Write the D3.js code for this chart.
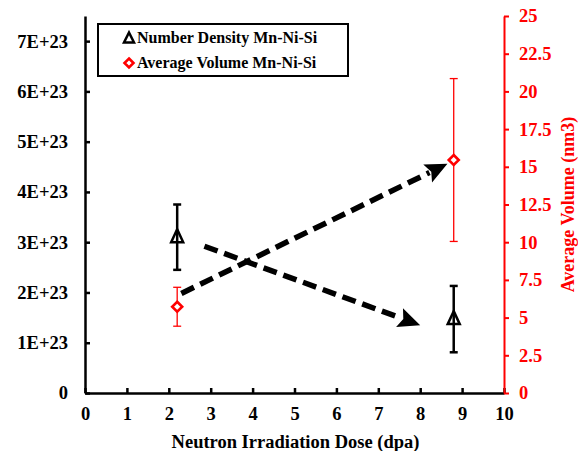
<!DOCTYPE html>
<html>
<head>
<meta charset="utf-8">
<script src="https://d3js.org/d3.v7.min.js"></script>
<style>
  body { margin: 0; background: #fff; }
  svg text { font-family: "Liberation Serif", "Times New Roman", serif; font-weight: bold; }
</style>
</head>
<body>
<svg id="chart" width="578" height="451"></svg>
<script>
// data
var dose = [2.2, 8.8];
var numberDensity = [3.1e23, 1.47e23];
var numberDensityErr = [0.65e23, 0.66e23];
var avgVolume = [5.72, 15.45];
var avgVolumeErr = [1.29, 5.4];
var xTicks = [0, 1, 2, 3, 4, 5, 6, 7, 8, 9, 10];
var leftTicks = [0, 1e23, 2e23, 3e23, 4e23, 5e23, 6e23, 7e23];
var leftTickLabels = ["0", "1E+23", "2E+23", "3E+23", "4E+23", "5E+23", "6E+23", "7E+23"];
var rightTicks = [0, 2.5, 5, 7.5, 10, 12.5, 15, 17.5, 20, 22.5, 25];
// trend arrows (start, tip) in data units
var arrowVolume = [[2.3, 6.6], [8.65, 15.2]];       // right axis units
var arrowDensity = [[2.85, 2.92e23], [8.0, 1.35e23]]; // left axis units

var svg = d3.select("#chart");
var pLeft = 85, pRight = 504, pTop = 16, pBottom = 393;

var x = d3.scaleLinear().domain([0, 10]).range([pLeft, pRight]);
var yL = d3.scaleLinear().domain([0, 7.5e23]).range([pBottom, pTop]);
var yR = d3.scaleLinear().domain([0, 25]).range([pBottom, pTop]);

// x axis
var xAxis = svg.append("g")
  .attr("transform", "translate(0," + pBottom + ")")
  .call(d3.axisBottom(x).tickValues(xTicks).tickSizeInner(-5).tickSizeOuter(0).tickPadding(14));
xAxis.select(".domain").attr("stroke", "#000").attr("stroke-width", 2.5);
xAxis.selectAll(".tick line").attr("stroke-width", 2.5);
xAxis.selectAll("text").attr("font-size", 18.5).attr("fill", "#000");

// left axis
var yAxisL = svg.append("g")
  .attr("transform", "translate(" + pLeft + ",0)")
  .call(d3.axisLeft(yL).tickValues(leftTicks).tickSizeInner(-5).tickSizeOuter(0).tickPadding(17)
    .tickFormat(function(d, i) { return leftTickLabels[i]; }));
yAxisL.select(".domain").attr("stroke", "#000").attr("stroke-width", 2.5);
yAxisL.selectAll(".tick line").attr("stroke-width", 2.5);
yAxisL.selectAll("text").attr("font-size", 18.5).attr("fill", "#000");

// right axis
var yAxisR = svg.append("g")
  .attr("transform", "translate(" + pRight + ",0)")
  .call(d3.axisRight(yR).tickValues(rightTicks).tickSizeInner(5).tickSizeOuter(0).tickPadding(10)
    .tickFormat(function(d) { return String(d); }));
yAxisR.select(".domain").attr("stroke", "red").attr("stroke-width", 2);
yAxisR.selectAll(".tick line").attr("stroke", "red").attr("stroke-width", 2);
yAxisR.selectAll("text").attr("font-size", 18.5).attr("fill", "red");

// axis titles
svg.append("text")
  .attr("x", (pLeft + pRight) / 2 + 1).attr("y", 448)
  .attr("text-anchor", "middle").attr("font-size", 18.5)
  .text("Neutron Irradiation Dose (dpa)");

svg.append("text")
  .attr("transform", "translate(574," + ((pTop + pBottom) / 2) + ") rotate(-90)")
  .attr("text-anchor", "middle").attr("font-size", 18).attr("fill", "red")
  .text("Average Volume (nm3)");

// arrows
function drawArrow(p0, p1) {
  var dx = p1[0] - p0[0], dy = p1[1] - p0[1];
  var len = Math.sqrt(dx * dx + dy * dy);
  var ux = dx / len, uy = dy / len;
  var headLen = 22, headW = 10;
  var bx = p1[0] - ux * headLen, by = p1[1] - uy * headLen;
  svg.append("line")
    .attr("x1", p0[0]).attr("y1", p0[1])
    .attr("x2", bx + ux * 2).attr("y2", by + uy * 2)
    .attr("stroke", "#000").attr("stroke-width", 5.5)
    .attr("stroke-dasharray", "14,7");
  svg.append("path")
    .attr("d", "M" + p1[0] + "," + p1[1] +
      "L" + (bx - uy * headW) + "," + (by + ux * headW) +
      "L" + (bx + ux * 4) + "," + (by + uy * 4) +
      "L" + (bx + uy * headW) + "," + (by - ux * headW) + "Z")
    .attr("fill", "#000");
}
drawArrow([x(arrowVolume[0][0]), yR(arrowVolume[0][1])], [x(arrowVolume[1][0]), yR(arrowVolume[1][1])]);
drawArrow([x(arrowDensity[0][0]), yL(arrowDensity[0][1])], [x(arrowDensity[1][0]), yL(arrowDensity[1][1])]);

// error bars - number density
var nd = dose.map(function(d, i) { return {x: d, y: numberDensity[i], e: numberDensityErr[i]}; });
var gN = svg.append("g");
nd.forEach(function(d) {
  var cx = x(d.x);
  gN.append("line").attr("x1", cx).attr("x2", cx).attr("y1", yL(d.y - d.e)).attr("y2", yL(d.y + d.e))
    .attr("stroke", "#000").attr("stroke-width", 2.5);
  [d.y - d.e, d.y + d.e].forEach(function(v) {
    gN.append("line").attr("x1", cx - 4).attr("x2", cx + 4).attr("y1", yL(v)).attr("y2", yL(v))
      .attr("stroke", "#000").attr("stroke-width", 2.5);
  });
  gN.append("path")
    .attr("transform", "translate(" + cx + "," + yL(d.y) + ")")
    .attr("d", "M0,-8L6,5L-6,5Z")
    .attr("fill", "none").attr("stroke", "#000").attr("stroke-width", 2.5);
});

// error bars - average volume
var av = dose.map(function(d, i) { return {x: d, y: avgVolume[i], e: avgVolumeErr[i]}; });
var gV = svg.append("g");
av.forEach(function(d) {
  var cx = x(d.x);
  gV.append("line").attr("x1", cx).attr("x2", cx).attr("y1", yR(d.y - d.e)).attr("y2", yR(d.y + d.e))
    .attr("stroke", "red").attr("stroke-width", 1.3);
  [d.y - d.e, d.y + d.e].forEach(function(v) {
    gV.append("line").attr("x1", cx - 4).attr("x2", cx + 4).attr("y1", yR(v)).attr("y2", yR(v))
      .attr("stroke", "red").attr("stroke-width", 1.3);
  });
  gV.append("path")
    .attr("transform", "translate(" + cx + "," + yR(d.y) + ")")
    .attr("d", "M0,-5L5,0L0,5L-5,0Z")
    .attr("fill", "#fff").attr("stroke", "red").attr("stroke-width", 2.6);
});

// legend
var leg = svg.append("g");
leg.append("rect").attr("x", 98).attr("y", 24).attr("width", 250).attr("height", 52)
  .attr("fill", "#fff").attr("stroke", "#000").attr("stroke-width", 2);
leg.append("path").attr("transform", "translate(129,38)")
  .attr("d", "M0,-5.5L5,4.5L-5,4.5Z")
  .attr("fill", "none").attr("stroke", "#000").attr("stroke-width", 2.5);
leg.append("text").attr("x", 137).attr("y", 43).attr("font-size", 16)
  .text("Number Density Mn-Ni-Si");
leg.append("path").attr("transform", "translate(129,63)")
  .attr("d", "M0,-4.5L4.5,0L0,4.5L-4.5,0Z")
  .attr("fill", "#fff").attr("stroke", "red").attr("stroke-width", 2.6);
leg.append("text").attr("x", 137).attr("y", 68).attr("font-size", 16)
  .text("Average Volume Mn-Ni-Si");
</script>
</body>
</html>
